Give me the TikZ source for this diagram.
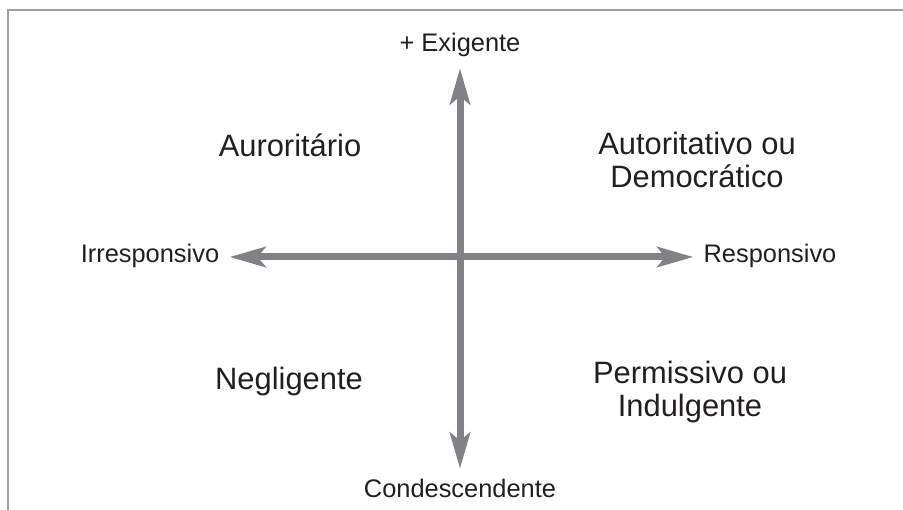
\documentclass[tikz,border=0pt]{standalone}
\usepackage{fontspec}
\setmainfont{Liberation Sans}
\usetikzlibrary{arrows.meta}
\definecolor{axisgray}{HTML}{808285}
\definecolor{framegray}{HTML}{A0A0A0}
\definecolor{ink}{HTML}{231F20}
\tikzset{
  pole/.style={text=ink,font=\fontsize{25.5}{30}\selectfont,text height=18bp,text depth=6bp,inner sep=10bp},
  quad/.style={text=ink,font=\fontsize{31}{33}\selectfont,align=center},
  axis/.style={draw=axisgray,line width=7bp,-{Stealth[length=36bp,width=20bp,inset=8bp]}},
  bothaxis/.style={axis,{Stealth[length=36bp,width=20bp,inset=8bp]}-{Stealth[length=36bp,width=20bp,inset=8bp]}},
  frame/.style={draw=framegray,line width=2bp}
}
\begin{document}
\begin{tikzpicture}[x=1bp,y=-1bp]
  \useasboundingbox (0,0) rectangle (903,510);
  \draw[frame] (7.5,510) -- (7.5,10.5) -- (903,10.5);
  \node[pole] (exig) at (460,46) {+ Exigente};
  \node[pole] (cond) at (460,491) {Condescendente};
  \node[pole] (irr) at (150,257) {Irresponsivo};
  \node[pole] (resp) at (770,257) {Responsivo};
  \draw[bothaxis] (irr) -- (resp);
  \draw[bothaxis] (cond) -- (exig);
  \node[quad] (autor) at (290,145) {Auroritário};
  \node[quad] (democ) at (697,160) {Autoritativo ou\\Democrático};
  \node[quad] (negl) at (289,382) {Negligente};
  \node[quad] (perm) at (690,392) {Permissivo ou\\Indulgente};
\end{tikzpicture}
\end{document}
